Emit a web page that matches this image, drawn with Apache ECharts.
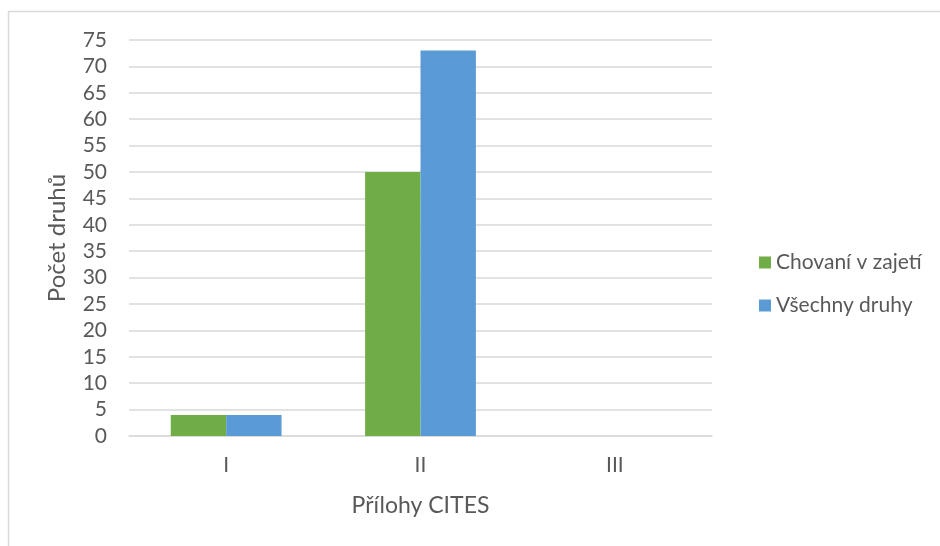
<!DOCTYPE html>
<html><head><meta charset="utf-8">
<script src="https://cdn.jsdelivr.net/npm/echarts@6/dist/echarts.min.js"></script>
<style>html,body{margin:0;padding:0;background:#fff}#c{width:940px;height:546px}</style>
</head><body><div id="c"></div>
<script>
const categories = ['I', 'II', 'III'];
const seriesNames = ['Chovaní v zajetí', 'Všechny druhy'];
const captive = [4, 50, 0];
const allSpecies = [4, 73, 0];
const yTicks = [0, 5, 10, 15, 20, 25, 30, 35, 40, 45, 50, 55, 60, 65, 70, 75];

const font = 'Lato, "Open Sans", sans-serif';
const txt = '#595959';
const chart = echarts.init(document.getElementById('c'));
chart.setOption({
  animation: false,
  backgroundColor: '#fff',
  graphic: [{
    type: 'rect', shape: {x: 8.5, y: 11.5, width: 1000, height: 600},
    style: {fill: 'none', stroke: '#d9d9d9', lineWidth: 1.5}, silent: true
  }],
  grid: {left: 129, right: 228, top: 40, bottom: 110, containLabel: false},
  legend: {
    orient: 'vertical', left: 754, top: 247, itemWidth: 12, itemHeight: 12, itemGap: 22,
    icon: 'rect',
    textStyle: {fontFamily: font, fontSize: 21, color: txt},
    data: seriesNames
  },
  xAxis: {
    type: 'category', data: categories,
    axisLine: {show: true, lineStyle: {color: '#d9d9d9', width: 1.5}},
    axisTick: {show: false},
    axisLabel: {fontFamily: font, fontSize: 21, color: txt, margin: 19},
    name: 'Přílohy CITES', nameLocation: 'middle', nameGap: 58,
    nameTextStyle: {fontFamily: font, fontSize: 23, color: txt}
  },
  yAxis: {
    type: 'value', min: yTicks[0], max: yTicks[yTicks.length - 1], interval: yTicks[1] - yTicks[0],
    axisLine: {show: false}, axisTick: {show: false},
    splitLine: {lineStyle: {color: '#d9d9d9', width: 1.5}},
    axisLabel: {fontFamily: font, fontSize: 21, color: txt, margin: 22},
    name: 'Počet druhů', nameLocation: 'middle', nameGap: 60, nameRotate: 90,
    nameTextStyle: {fontFamily: font, fontSize: 24, color: txt}
  },
  series: [
    {name: seriesNames[0], type: 'bar', data: captive, barGap: '0%', barCategoryGap: '43%',
     itemStyle: {color: '#70ad47'}},
    {name: seriesNames[1], type: 'bar', data: allSpecies, barGap: '0%', barCategoryGap: '43%',
     itemStyle: {color: '#5b9bd5'}}
  ]
});
</script></body></html>
